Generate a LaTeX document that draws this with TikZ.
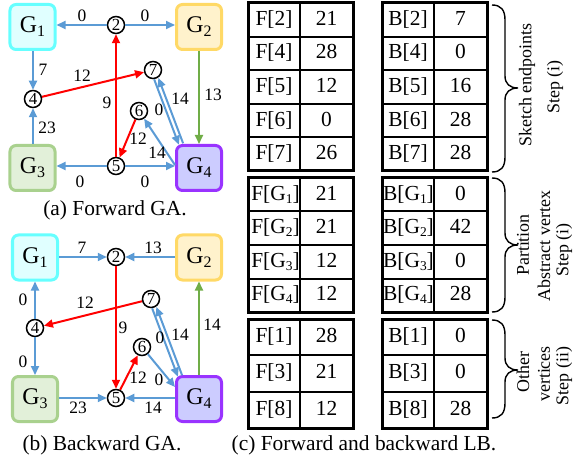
\documentclass[tikz,border=0pt]{standalone}
\usepackage{fontspec}
\setmainfont{Liberation Serif}
\usetikzlibrary{arrows.meta,calc}
\definecolor{cb}{HTML}{5B9BD5}
\definecolor{cr}{HTML}{FF0000}
\definecolor{cg}{HTML}{70AD47}
\definecolor{gAd}{HTML}{66FFFF}\definecolor{gAf}{HTML}{E0FFFF}
\definecolor{gBd}{HTML}{FFD966}\definecolor{gBf}{HTML}{FFF2CC}
\definecolor{gCd}{HTML}{A9D18E}\definecolor{gCf}{HTML}{E2F0D9}
\definecolor{gDd}{HTML}{9933FF}\definecolor{gDf}{HTML}{CCCCFF}
\newcommand\Gsub[1]{G\raisebox{-4bp}{\fontsize{16}{16}\selectfont #1}}
\newcommand\Tsub[1]{G\raisebox{-3bp}{\fontsize{13.5}{13.5}\selectfont #1}}
\newcommand\LBbrace[4]{% x, top, bottom, tip
  \draw[line width=1.4bp] (#1,#2) .. controls (#1+9,#2) and (#1+13,#2+5) .. (#1+13,#2+15)
    -- (#1+13,#4-12) .. controls (#1+13,#4-4) and (#1+18,#4) .. (#1+26,#4)
    .. controls (#1+18,#4) and (#1+13,#4+4) .. (#1+13,#4+12)
    -- (#1+13,#3-15) .. controls (#1+13,#3-5) and (#1+9,#3) .. (#1,#3);}
\begin{document}
\begin{tikzpicture}[x=1bp,y=-1bp,
  gbox/.style={draw, rounded corners=6bp, line width=3bp, minimum width=45bp, minimum height=45bp, inner sep=0pt, font=\fontsize{24}{26}\selectfont},
  vtx/.style={circle, draw, line width=1.5bp, fill=white, minimum size=17bp, inner sep=0pt, font=\fontsize{17}{17}\selectfont},
  lbl/.style={font=\fontsize{17.5}{18}\selectfont, inner sep=0pt},
  arr/.style={line width=2bp, -{Triangle[length=9bp,width=8bp]}},
  be/.style={arr, color=cb},
  re/.style={arr, color=cr},
  ge/.style={arr, color=cg},
  captxt/.style={font=\fontsize{21.5}{24}\selectfont, inner sep=0pt},
  cell/.style={font=\fontsize{21.5}{24}\selectfont, inner sep=0pt, text height=15bp, text depth=4bp},
  tout/.style={line width=3bp},
  tin/.style={line width=2bp},
  side/.style={font=\fontsize{18}{20}\selectfont, rotate=90, inner sep=0pt},
]
\useasboundingbox (0,0) rectangle (574,460);

% ---------------- (a) Forward GA ----------------
\node[gbox, draw=gAd, fill=gAf] (aG1) at (32.5,27) {\Gsub{1}};
\node[gbox, draw=gBd, fill=gBf] (aG2) at (199,27) {\Gsub{2}};
\node[gbox, draw=gCd, fill=gCf] (aG3) at (32.5,168) {\Gsub{3}};
\node[gbox, draw=gDd, fill=gDf] (aG4) at (199,168) {\Gsub{4}};
\node[vtx] (a2) at (116,25) {2};
\node[vtx] (a7) at (153,70) {7};
\node[vtx] (a4) at (33,99) {4};
\node[vtx] (a6) at (139,111) {6};
\node[vtx] (a5) at (116,166) {5};
\coordinate (aT4) at (181,144);
\coordinate (aW4) at ($(aG4.west)+(0,-3)$);

\draw[be] (a2) -- (a2 -| aG1.east);
\draw[be] (a2) -- (a2 -| aG2.west);
\draw[be] (a4 |- aG1.south) -- (a4);
\draw[be] (a4 |- aG3.north) -- (a4);
\draw[be] (a5) -- (a5 -| aG3.east);
\draw[be] (a5) -- (a5 -| aG4.west);
\draw[be] (aW4) -- (a6);
\draw[be, transform canvas={xshift=-2.1bp, yshift=-0.7bp}] (a7) -- (aT4);
\draw[be, transform canvas={xshift=2.1bp, yshift=0.7bp}] (aT4) -- (a7);
\draw[ge] (aG2) -- (aG4);
\draw[re] (a4) -- (a7);
\draw[re] (a5) -- (a2);
\draw[re] (a6) -- (a5);

\node[lbl] (la1) at (82,16) {0};
\node[lbl] (la2) at (145,16) {0};
\node[lbl] (la3) at (43,70) {7};
\node[lbl] (la4) at (47,128) {23};
\node[lbl] (la5) at (82,76) {12};
\node[lbl] (la6) at (107,103) {9};
\node[lbl] (la7) at (138,139) {12};
\node[lbl] (la8) at (213,95) {13};
\node[lbl] (la9) at (80,182) {0};
\node[lbl] (la10) at (145,182) {0};
\node[lbl] (la11) at (157,153) {14};
\node[lbl] (la12) at (159,110) {0};
\node[lbl] (la13) at (180,99) {14};

\node[captxt] (capa) at (115,210) {(a) Forward GA.};

% ---------------- (b) Backward GA ----------------
\node[gbox, draw=gAd, fill=gAf] (bG1) at (35,257.5) {\Gsub{1}};
\node[gbox, draw=gBd, fill=gBf] (bG2) at (199,257.5) {\Gsub{2}};
\node[gbox, draw=gCd, fill=gCf] (bG3) at (35,399) {\Gsub{3}};
\node[gbox, draw=gDd, fill=gDf] (bG4) at (199,399) {\Gsub{4}};
\node[vtx] (b2) at (116,257) {2};
\node[vtx] (b7) at (151,299) {7};
\node[vtx] (b4) at (35,328) {4};
\node[vtx] (b6) at (142,347) {6};
\node[vtx] (b5) at (116,398) {5};
\coordinate (bT4) at (180,376);
\coordinate (bW4) at ($(bG4.west)+(0,-12)$);

\draw[be] (b2 -| bG1.east) -- (b2);
\draw[be] (b2 -| bG2.west) -- (b2);
\draw[be] (b4) -- (b4 |- bG1.south);
\draw[be] (b4) -- (b4 |- bG3.north);
\draw[be] (b5 -| bG3.east) -- (b5);
\draw[be] (b5 -| bG4.west) -- (b5);
\draw[be] (b6) -- (bW4);
\draw[be, transform canvas={xshift=-2.1bp, yshift=-0.7bp}] (b7) -- (bT4);
\draw[be, transform canvas={xshift=2.1bp, yshift=0.7bp}] (bT4) -- (b7);
\draw[ge] (bG4) -- (bG2);
\draw[re] (b7) -- (b4);
\draw[re] (b2) -- (b5);
\draw[re] (b5) -- (b6);

\node[lbl] (lb1) at (82,248) {7};
\node[lbl] (lb2) at (153,248) {13};
\node[lbl] (lb3) at (23,300) {0};
\node[lbl] (lb4) at (23,362) {0};
\node[lbl] (lb5) at (85,303) {12};
\node[lbl] (lb6) at (123,328) {9};
\node[lbl] (lb7) at (138,378) {12};
\node[lbl] (lb8) at (212,325) {14};
\node[lbl] (lb9) at (78,408) {23};
\node[lbl] (lb10) at (153,408) {14};
\node[lbl] (lb11) at (159,380) {0};
\node[lbl] (lb12) at (160,338) {0};
\node[lbl] (lb13) at (180,335) {14};

\node[captxt] (capb) at (102,445) {(b) Backward GA.};

% ---------------- (c) tables ----------------
% table 1
\draw[tin] \foreach \i in {1,...,4} {(248,3+\i*33.6) -- (353,3+\i*33.6) (382,3+\i*33.6) -- (487,3+\i*33.6)};
\draw[tin] (300,3) -- (300,171) (434,3) -- (434,171);
\draw[tout] (248,3) rectangle (353,171) (382,3) rectangle (487,171);
\foreach \k/\v/\m/\w [count=\i] in {F[2]/21/B[2]/7, F[4]/28/B[4]/0, F[5]/12/B[5]/16, F[6]/0/B[6]/28, F[7]/26/B[7]/28}{
  \node[cell] (tAk\i) at (274,3+\i*33.6-16.8) {\k};
  \node[cell] (tAv\i) at (326.5,3+\i*33.6-16.8) {\v};
  \node[cell] (tAm\i) at (408,3+\i*33.6-16.8) {\m};
  \node[cell] (tAw\i) at (460.5,3+\i*33.6-16.8) {\w};
}
% table 2
\draw[tin] \foreach \i in {1,...,3} {(248,178+\i*33.5) -- (353,178+\i*33.5) (382,178+\i*33.5) -- (487,178+\i*33.5)};
\draw[tin] (300,178) -- (300,312) (434,178) -- (434,312);
\draw[tout] (248,178) rectangle (353,312) (382,178) rectangle (487,312);
\foreach \k/\v/\m/\w [count=\i] in {1/21/1/0, 2/21/2/42, 3/12/3/0, 4/12/4/28}{
  \node[cell] (tBk\i) at (275.5,178+\i*33.5-16.75) {F[\Tsub{\k}]};
  \node[cell] (tBv\i) at (326.5,178+\i*33.5-16.75) {\v};
  \node[cell] (tBm\i) at (408.5,178+\i*33.5-16.75) {B[\Tsub{\m}]};
  \node[cell] (tBw\i) at (460.5,178+\i*33.5-16.75) {\w};
}
% table 3
\draw[tin] \foreach \i in {1,2} {(248,319+\i*36.33) -- (353,319+\i*36.33) (382,319+\i*36.33) -- (487,319+\i*36.33)};
\draw[tin] (300,319) -- (300,428) (434,319) -- (434,428);
\draw[tout] (248,319) rectangle (353,428) (382,319) rectangle (487,428);
\foreach \k/\v/\m/\w [count=\i] in {F[1]/28/B[1]/0, F[3]/21/B[3]/0, F[8]/12/B[8]/28}{
  \node[cell] (tCk\i) at (274,319+\i*36.33-18.17) {\k};
  \node[cell] (tCv\i) at (326.5,319+\i*36.33-18.17) {\v};
  \node[cell] (tCm\i) at (408,319+\i*36.33-18.17) {\m};
  \node[cell] (tCw\i) at (460.5,319+\i*36.33-18.17) {\w};
}

% braces
\LBbrace{492}{5}{172}{88}
\LBbrace{492}{178}{312}{245}
\LBbrace{492}{320}{418}{370}

\node[side] (s1a) at (527,85) {Sketch endpoints};
\node[side] (s1b) at (555,87) {Step (i)};
\node[side] (s2a) at (523,245) {Partition};
\node[side] (s2b) at (544,246) {Abstract vertex};
\node[side] (s2c) at (564,250) {Step (i)};
\node[side] (s3a) at (523,372) {Other};
\node[side] (s3b) at (544,374) {vertices};
\node[side] (s3c) at (564,376) {Step (ii)};

\node[captxt] (capc) at (364,445) {(c) Forward and backward LB.};
\end{tikzpicture}
\end{document}
